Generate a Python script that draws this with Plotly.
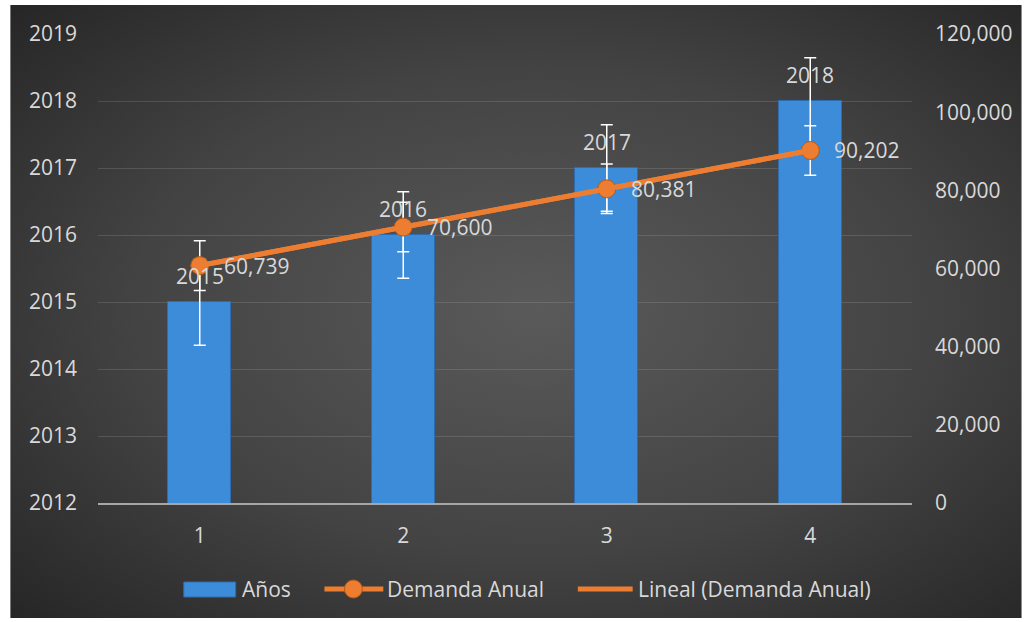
import base64
import numpy as np
import plotly.graph_objects as go

# ---- data ----
categories = [1, 2, 3, 4]
anios = [2015, 2016, 2017, 2018]                 # bar series "Años" (left axis)
demanda = [60739, 70600, 80381, 90202]           # line series "Demanda Anual" (right axis)
year_ticks = [2012, 2013, 2014, 2015, 2016, 2017, 2018, 2019]
demanda_ticks = [0, 20000, 40000, 60000, 80000, 100000, 120000]
err_anios = 0.645        # standard error of the yearly series
err_demanda = 6340       # standard error of the demand series

# linear trend of the demand series
coef = np.polyfit(categories, demanda, 1)
trend = np.polyval(coef, categories)

# ---- style ----
TXT = "#d9d9d9"
ORANGE = "#ed7d31"
BLUE = "#3c8cda"
FONT = "Open Sans"
FS = 21
W, H = 1024, 622
ML, MR, MT, MB = 98, 110, 34, 119
PW, PH = W - ML - MR, H - MT - MB


def px(xp):
    return (xp - ML) / PW


def py(yp):
    return (H - MB - yp) / PH


# radial background panel
svg = (
    "<svg xmlns='http://www.w3.org/2000/svg' width='1014' height='613' "
    "preserveAspectRatio='none' viewBox='0 0 1014 613'>"
    "<defs><radialGradient id='g' cx='52%' cy='50%' r='72%'>"
    "<stop offset='0' stop-color='#5a5a5a'/>"
    "<stop offset='0.55' stop-color='#434343'/>"
    "<stop offset='1' stop-color='#262626'/>"
    "</radialGradient></defs>"
    "<rect width='1014' height='613' fill='url(#g)'/></svg>"
)
bg_src = "data:image/svg+xml;base64," + base64.b64encode(svg.encode()).decode()

fig = go.Figure()

fig.add_trace(go.Bar(
    x=categories, y=anios, name="Años", width=0.31,
    marker=dict(color=BLUE, line=dict(color="#2f6cae", width=1)),
    error_y=dict(type="constant", value=err_anios, color="white",
                 thickness=1.5, width=6),
    yaxis="y", showlegend=False,
))

fig.add_trace(go.Scatter(
    x=categories, y=demanda, name="Demanda Anual", mode="lines+markers",
    line=dict(color=ORANGE, width=5),
    marker=dict(size=18, color=ORANGE, line=dict(color="#b85a14", width=1)),
    error_y=dict(type="constant", value=err_demanda, color="white",
                 thickness=1.5, width=6),
    yaxis="y2", showlegend=False,
))

fig.add_trace(go.Scatter(
    x=categories, y=trend, name="Lineal (Demanda Anual)", mode="lines",
    line=dict(color=ORANGE, width=5),
    yaxis="y2", showlegend=False,
))

annotations = []
for c, a in zip(categories, anios):
    annotations.append(dict(
        x=c, y=a, xref="x", yref="y", text=str(a), showarrow=False,
        yshift=26, font=dict(family=FONT, size=FS, color=TXT),
    ))
for c, d in zip(categories, demanda):
    annotations.append(dict(
        x=c, y=d, xref="x", yref="y2", text=f"{d:,}", showarrow=False,
        xanchor="left", xshift=22, font=dict(family=FONT, size=FS, color=TXT),
    ))

# legend drawn along the bottom
legend_y = 589
legend_items = [(240, "Años"), (386, "Demanda Anual"), (637, "Lineal (Demanda Anual)")]
for xl, t in legend_items:
    annotations.append(dict(
        x=px(xl), y=py(legend_y), xref="paper", yref="paper", text=t,
        showarrow=False, xanchor="left", yanchor="middle",
        font=dict(family=FONT, size=FS, color=TXT),
    ))

shapes = [
    dict(type="rect", xref="paper", yref="paper",
         x0=px(184), x1=px(236), y0=py(582), y1=py(597),
         fillcolor=BLUE, line=dict(color="#2f6cae", width=1)),
    dict(type="line", xref="paper", yref="paper",
         x0=px(325), x1=px(384), y0=py(legend_y), y1=py(legend_y),
         line=dict(color=ORANGE, width=5)),
    dict(type="circle", xref="paper", yref="paper",
         x0=px(345), x1=px(363), y0=py(598), y1=py(580),
         fillcolor=ORANGE, line=dict(color="#b85a14", width=1)),
    dict(type="line", xref="paper", yref="paper",
         x0=px(579), x1=px(634), y0=py(legend_y), y1=py(legend_y),
         line=dict(color=ORANGE, width=5)),
]

fig.update_layout(
    width=W, height=H,
    margin=dict(l=ML, r=MR, t=MT, b=MB, pad=0),
    paper_bgcolor="white", plot_bgcolor="rgba(0,0,0,0)",
    font=dict(family=FONT, size=FS, color=TXT),
    showlegend=False,
    bargap=0,
    xaxis=dict(
        range=[0.5, 4.5], tickvals=categories, ticktext=[str(c) for c in categories],
        showgrid=False, zeroline=False, showline=True,
        linecolor="#a6a6a6", linewidth=2, ticks="", ticklabelstandoff=13,
        tickfont=dict(family=FONT, size=FS, color=TXT),
    ),
    yaxis=dict(
        range=[2012, 2019], tickvals=year_ticks, showgrid=True,
        gridcolor="rgba(200,200,200,0.18)", gridwidth=1, zeroline=False,
        showline=False, ticks="", ticklabelstandoff=20,
        tickfont=dict(family=FONT, size=FS, color=TXT),
    ),
    yaxis2=dict(
        range=[0, 120000], tickvals=demanda_ticks, tickformat=",d",
        overlaying="y", side="right", showgrid=False, zeroline=False,
        showline=False, ticks="", ticklabelstandoff=22,
        tickfont=dict(family=FONT, size=FS, color=TXT),
    ),
    images=[dict(
        source=bg_src, xref="paper", yref="paper",
        x=px(10), y=py(5), sizex=px(1024) - px(10), sizey=py(5) - py(618),
        xanchor="left", yanchor="top", sizing="stretch", layer="below",
    )],
    annotations=annotations,
    shapes=shapes,
)

fig.write_html("out.html")
